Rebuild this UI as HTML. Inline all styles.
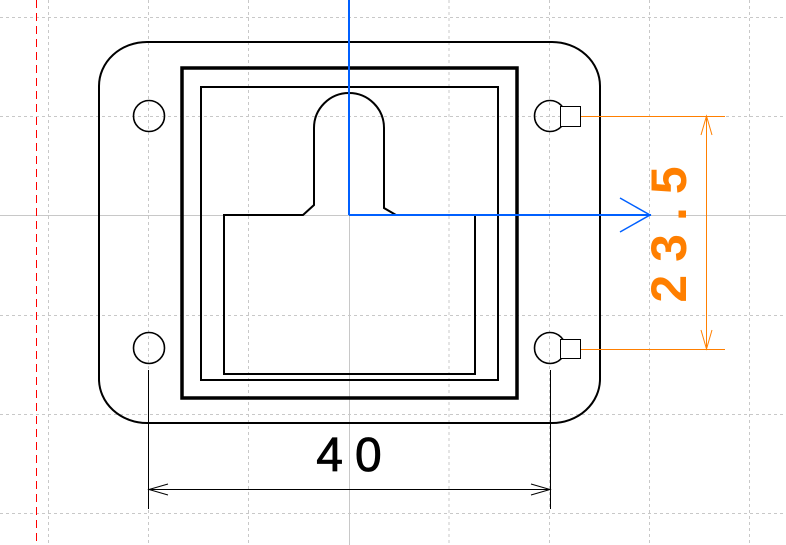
<!DOCTYPE html>
<html><head><style>html,body{margin:0;padding:0;background:#fff;}svg{display:block}</style></head>
<body>
<svg width="786" height="545" viewBox="0 0 786 545" xmlns="http://www.w3.org/2000/svg">
<g stroke="#c8c8c8" stroke-width="1" stroke-dasharray="3,3" fill="none">
<line x1="48.5" y1="0" x2="48.5" y2="545"/><line x1="148.5" y1="0" x2="148.5" y2="545"/>
<line x1="248.5" y1="0" x2="248.5" y2="545"/><line x1="449" y1="0" x2="449" y2="545"/>
<line x1="549.5" y1="0" x2="549.5" y2="545"/><line x1="649.5" y1="0" x2="649.5" y2="545"/>
<line x1="749.5" y1="0" x2="749.5" y2="545"/>
<line x1="0" y1="17.5" x2="786" y2="17.5"/><line x1="0" y1="116.5" x2="786" y2="116.5"/>
<line x1="0" y1="315.5" x2="786" y2="315.5"/><line x1="0" y1="414.5" x2="786" y2="414.5"/>
<line x1="0" y1="513.5" x2="786" y2="513.5"/>
</g>
<g stroke="#c8c8c8" stroke-width="1"><line x1="349.5" y1="0" x2="349.5" y2="545"/><line x1="0" y1="215.5" x2="786" y2="215.5"/></g>
<line x1="36.5" y1="0" x2="36.5" y2="545" stroke="#ff0000" stroke-width="1" stroke-dasharray="8,5"/>
<g fill="none" stroke="#000">
<rect x="99" y="42" width="501" height="381" rx="48" ry="44" stroke-width="2"/>
<rect x="182" y="68" width="335" height="330" stroke-width="3.5"/>
<rect x="201" y="87" width="297" height="293" stroke-width="2"/>
<path d="M224,215 L303,215 L314,205 L314,128 A35,35 0 0 1 384,128 L384,208 L396,215 L475,215 L475,374 L224,374 Z" stroke-width="2"/>
<g stroke-width="1.6">
<circle cx="149" cy="116" r="15.5"/><circle cx="149" cy="348" r="15.5"/>
<circle cx="550" cy="116" r="15.5"/><circle cx="550" cy="348" r="15.5"/>
</g>
<rect x="560.5" y="106.5" width="20" height="20" fill="#fff" stroke-width="1"/>
<rect x="560.5" y="339.5" width="20" height="19" fill="#fff" stroke-width="1"/>
<g stroke-width="1">
<line x1="148.5" y1="370" x2="148.5" y2="509"/><line x1="550.5" y1="370" x2="550.5" y2="509"/>
<line x1="149" y1="489.5" x2="550" y2="489.5"/>
<path d="M168,484 L149,489.5 L168,495 M531,484 L550,489.5 L531,495"/>
</g>
</g>
<text x="355" y="471" font-family="Liberation Sans, sans-serif" font-size="48" text-anchor="middle" letter-spacing="12" stroke="#000" stroke-width="0.8">40</text>
<g stroke="#0060ff" stroke-width="2" fill="none">
<line x1="349" y1="0" x2="349" y2="215"/><line x1="349" y1="215" x2="651" y2="215"/>
<path d="M620,198 L650,215 L620,232" stroke-width="1.5"/>
</g>
<g stroke="#ff7f00" stroke-width="1" fill="none">
<line x1="581" y1="116.5" x2="725" y2="116.5"/><line x1="581" y1="349.5" x2="725" y2="349.5"/>
<line x1="706.5" y1="116" x2="706.5" y2="349"/>
<path d="M701,135 L706.5,116 L712,135 M701,330 L706.5,349 L712,330"/>
</g>
<text transform="translate(686,228) rotate(-90)" font-family="Liberation Sans, sans-serif" font-size="50" font-weight="bold" fill="#ff7f00" text-anchor="middle" letter-spacing="13">23.5</text>
</svg>
</body></html>
